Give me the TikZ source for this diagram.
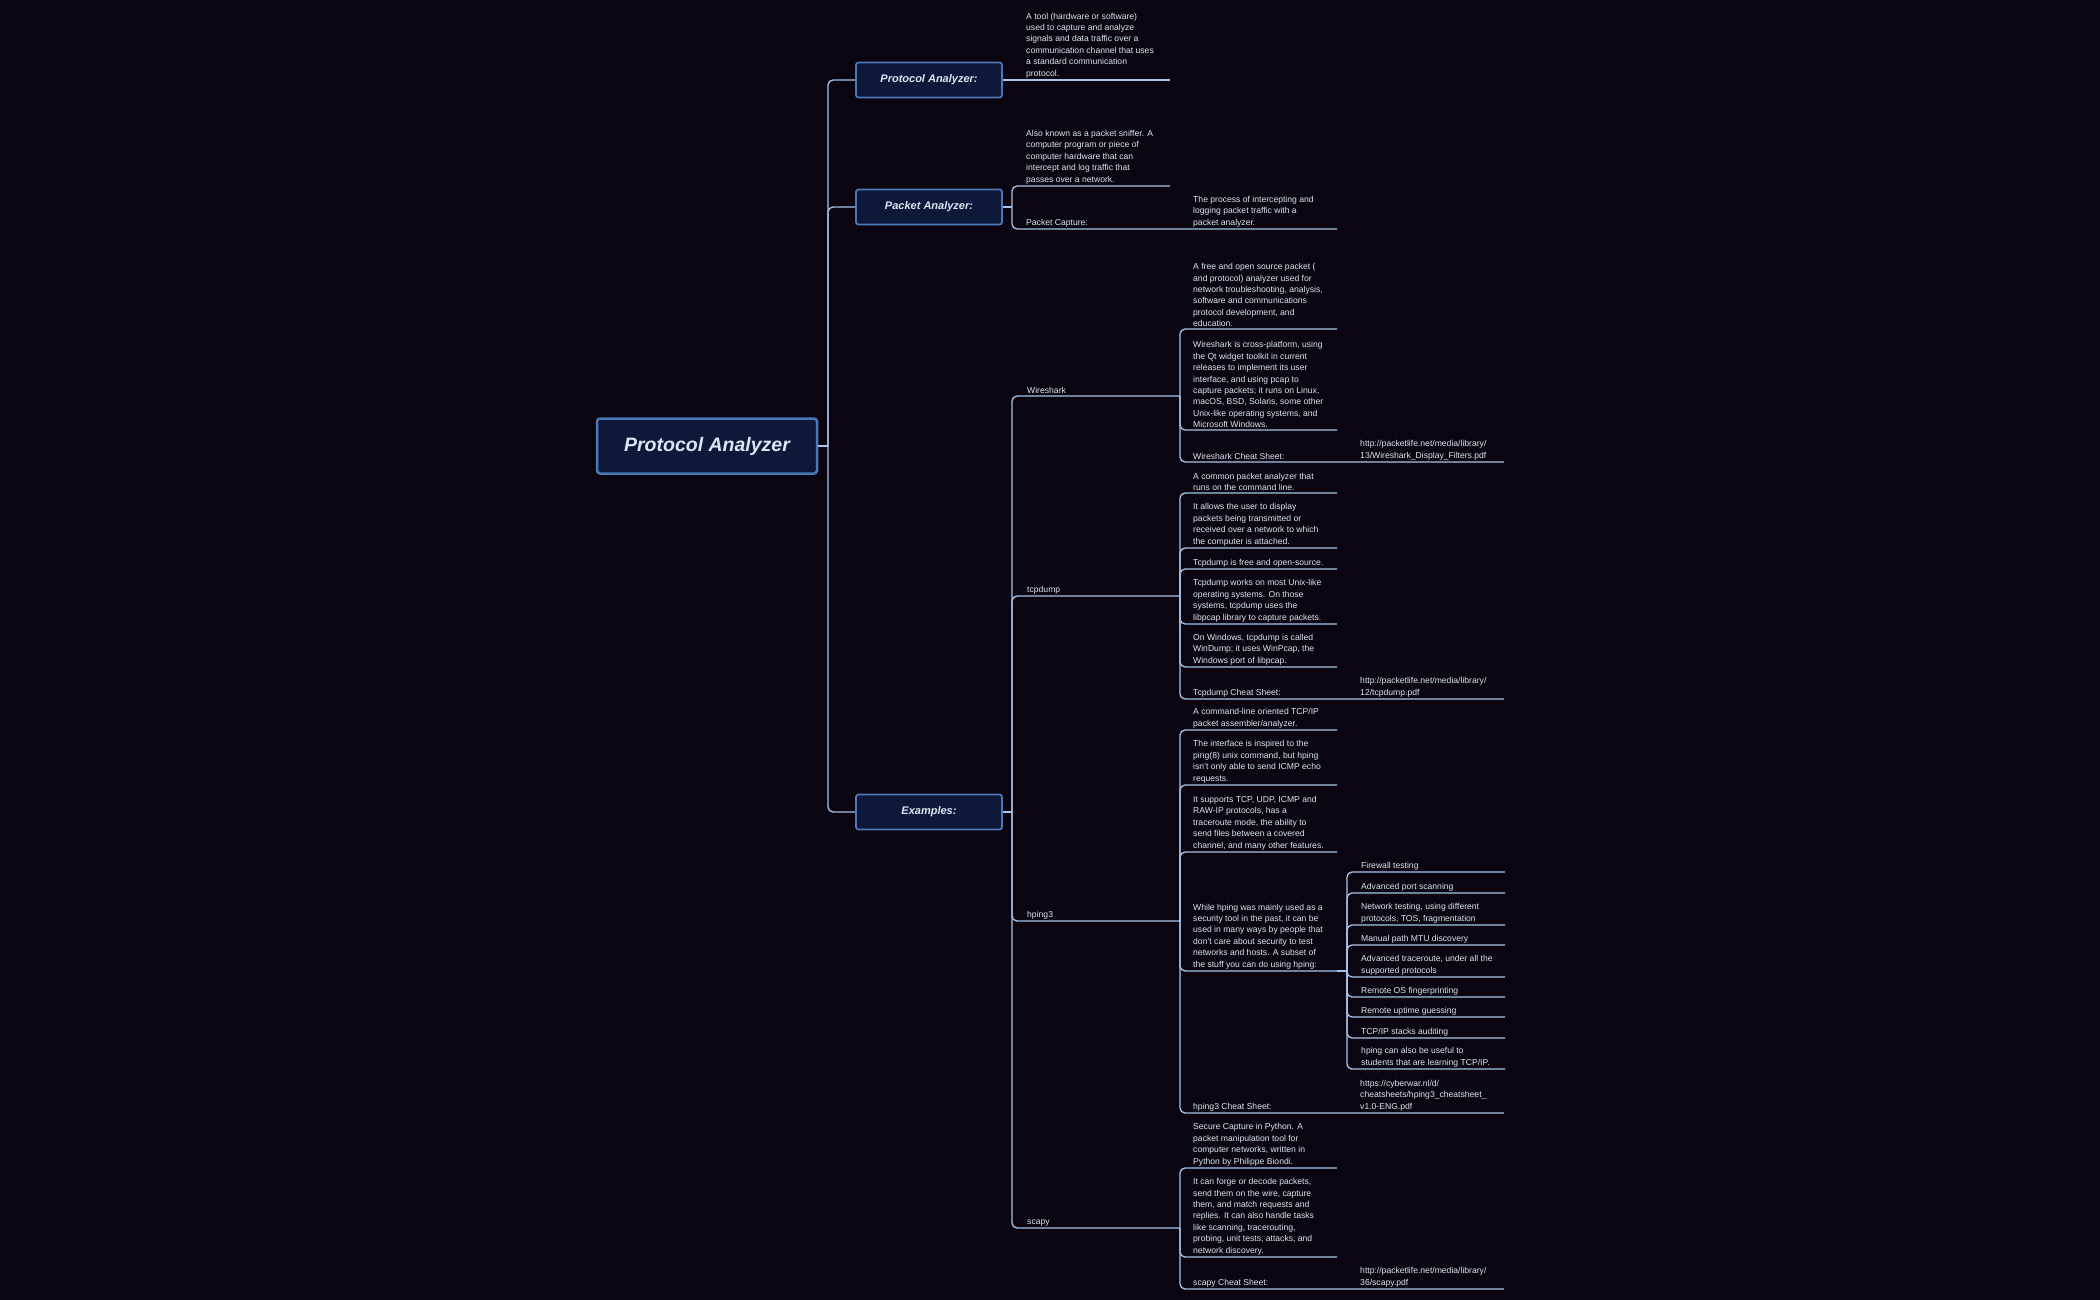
\documentclass[tikz,border=0pt]{standalone}
\usepackage{fontspec}
\setmainfont{Liberation Sans}
\definecolor{bg}{HTML}{0A0510}
\definecolor{ln}{HTML}{A9C4E8}
\definecolor{tx}{HTML}{DCE5F4}
\definecolor{bxf}{HTML}{0E1838}
\definecolor{bxd}{HTML}{4A78B8}
\tikzset{
 conn/.style={draw=ln,line width=1.3pt,rounded corners=5pt},
 leaf/.style={text=tx,font=\fontsize{8.6}{11.4}\selectfont,align=left,inner sep=0pt,anchor=south west},
 topbox/.style={draw=bxd,fill=bxf,line width=1.8pt,rounded corners=2.5pt,text=tx,font=\fontsize{11}{13}\selectfont\bfseries\itshape,minimum width=146pt,minimum height=35pt,inner sep=0pt},
 rootbox/.style={draw=bxd,fill=bxf,line width=2.5pt,rounded corners=3pt,text=tx,font=\fontsize{19.5}{22}\selectfont\bfseries\itshape,minimum width=220pt,minimum height=55pt,inner sep=0pt}
}
\begin{document}
\begin{tikzpicture}[x=1pt,y=-1pt]
\useasboundingbox[fill=bg] (0,0) rectangle (2100,1300);
% boxes
\node[rootbox] (root) at (707,446) {Protocol Analyzer};
\node[topbox] (pa) at (929,80) {Protocol Analyzer:};
\node[topbox] (pk) at (929,207) {Packet Analyzer:};
\node[topbox] (ex) at (929,812) {Examples:};
\coordinate (trunk) at (828,446);
\draw[conn] (root.east) -- (trunk);
\draw[conn] (trunk) |- (pa.west);
\draw[conn] (trunk) |- (pk.west);
\draw[conn] (trunk) |- (ex.west);
% Protocol analyzer
\node[leaf] (pad) at (1026,78) {A tool (hardware or software)\\used to capture and analyze\\signals and data traffic over a\\communication channel that uses\\a standard communication\\protocol.};
\draw[conn] (pa.east) -- (1170,80);
% Packet analyzer
\coordinate (pkb) at (1012,207);
\draw[conn] (pk.east) -- (pkb);
\node[leaf] (pkd) at (1026,184) {Also known as a packet sniffer. A\\computer program or piece of\\computer hardware that can\\intercept and log traffic that\\passes over a network.};
\node[leaf] (pc) at (1026,227) {Packet Capture:};
\node[leaf] (pcd) at (1193,227) {The process of intercepting and\\logging packet traffic with a\\packet analyzer.};
\draw[conn] (pkb) |- (1170,186);
\draw[conn] (pkb) |- (1337,229);
% Examples
\coordinate (exb) at (1012,812);
\draw[conn] (ex.east) -- (exb);
\node[leaf] (ws) at (1027,394) {Wireshark};
\node[leaf] (td) at (1027,594) {tcpdump};
\node[leaf] (hp) at (1027,919) {hping3};
\node[leaf] (sc) at (1027,1226) {scapy};
\foreach \y in {396,596,921,1228} \draw[conn] (exb) |- (1180,\y);
% Wireshark
\node[leaf] at (1193,327) {A free and open source packet (\\and protocol) analyzer used for\\network troubleshooting, analysis,\\software and communications\\protocol development, and\\education.};
\node[leaf] at (1193,428) {Wireshark is cross-platform, using\\the Qt widget toolkit in current\\releases to implement its user\\interface, and using pcap to\\capture packets; it runs on Linux,\\macOS, BSD, Solaris, some other\\Unix-like operating systems, and\\Microsoft Windows.};
\node[leaf] at (1193,460) {Wireshark Cheat Sheet:};
\node[leaf] at (1360,460) {http://packetlife.net/media/library/\\13/Wireshark\_Display\_Filters.pdf};
\foreach \y in {329,430} \draw[conn] (1180,396) |- (1337,\y);
\draw[conn] (1180,396) |- (1504,462);
% tcpdump
\node[leaf] at (1193,491) {A common packet analyzer that\\runs on the command line.};
\node[leaf] at (1193,546) {It allows the user to display\\packets being transmitted or\\received over a network to which\\the computer is attached.};
\node[leaf] at (1193,567) {Tcpdump is free and open-source.};
\node[leaf] at (1193,622) {Tcpdump works on most Unix-like\\operating systems. On those\\systems, tcpdump uses the\\libpcap library to capture packets.};
\node[leaf] at (1193,665) {On Windows, tcpdump is called\\WinDump; it uses WinPcap, the\\Windows port of libpcap.};
\node[leaf] at (1193,697) {Tcpdump Cheat Sheet:};
\node[leaf] at (1360,697) {http://packetlife.net/media/library/\\12/tcpdump.pdf};
\foreach \y in {493,548,569,624,667} \draw[conn] (1180,596) |- (1337,\y);
\draw[conn] (1180,596) |- (1504,699);
% hping3
\node[leaf] at (1193,728) {A command-line oriented TCP/IP\\packet assembler/analyzer.};
\node[leaf] at (1193,783) {The interface is inspired to the\\ping(8) unix command, but hping\\isn't only able to send ICMP echo\\requests.};
\node[leaf] at (1193,850) {It supports TCP, UDP, ICMP and\\RAW-IP protocols, has a\\traceroute mode, the ability to\\send files between a covered\\channel, and many other features.};
\node[leaf] at (1193,969) {While hping was mainly used as a\\security tool in the past, it can be\\used in many ways by people that\\don't care about security to test\\networks and hosts. A subset of\\the stuff you can do using hping:};
\node[leaf] at (1193,1111) {hping3 Cheat Sheet:};
\node[leaf] at (1360,1111) {https://cyberwar.nl/d/\\cheatsheets/hping3\_cheatsheet\_\\v1.0-ENG.pdf};
\foreach \y in {730,785,852,971} \draw[conn] (1180,921) |- (1337,\y);
\draw[conn] (1180,921) |- (1504,1113);
\coordinate (hpb) at (1347,971);
\draw[conn] (1337,971) -- (hpb);
\node[leaf] at (1361,870) {Firewall testing};
\node[leaf] at (1361,891) {Advanced port scanning};
\node[leaf] at (1361,923) {Network testing, using different\\protocols, TOS, fragmentation};
\node[leaf] at (1361,943) {Manual path MTU discovery};
\node[leaf] at (1361,975) {Advanced traceroute, under all the\\supported protocols};
\node[leaf] at (1361,995) {Remote OS fingerprinting};
\node[leaf] at (1361,1015) {Remote uptime guessing};
\node[leaf] at (1361,1036) {TCP/IP stacks auditing};
\node[leaf] at (1361,1067) {hping can also be useful to\\students that are learning TCP/IP.};
\foreach \y in {872,893,925,945,977,997,1017,1038,1069} \draw[conn] (hpb) |- (1505,\y);
% scapy
\node[leaf] at (1193,1166) {Secure Capture in Python. A\\packet manipulation tool for\\computer networks, written in\\Python by Philippe Biondi.};
\node[leaf] at (1193,1255) {It can forge or decode packets,\\send them on the wire, capture\\them, and match requests and\\replies. It can also handle tasks\\like scanning, tracerouting,\\probing, unit tests, attacks, and\\network discovery.};
\node[leaf] at (1193,1287) {scapy Cheat Sheet:};
\node[leaf] at (1360,1287) {http://packetlife.net/media/library/\\36/scapy.pdf};
\foreach \y in {1168,1257} \draw[conn] (1180,1228) |- (1337,\y);
\draw[conn] (1180,1228) |- (1504,1289);
\end{tikzpicture}
\end{document}
